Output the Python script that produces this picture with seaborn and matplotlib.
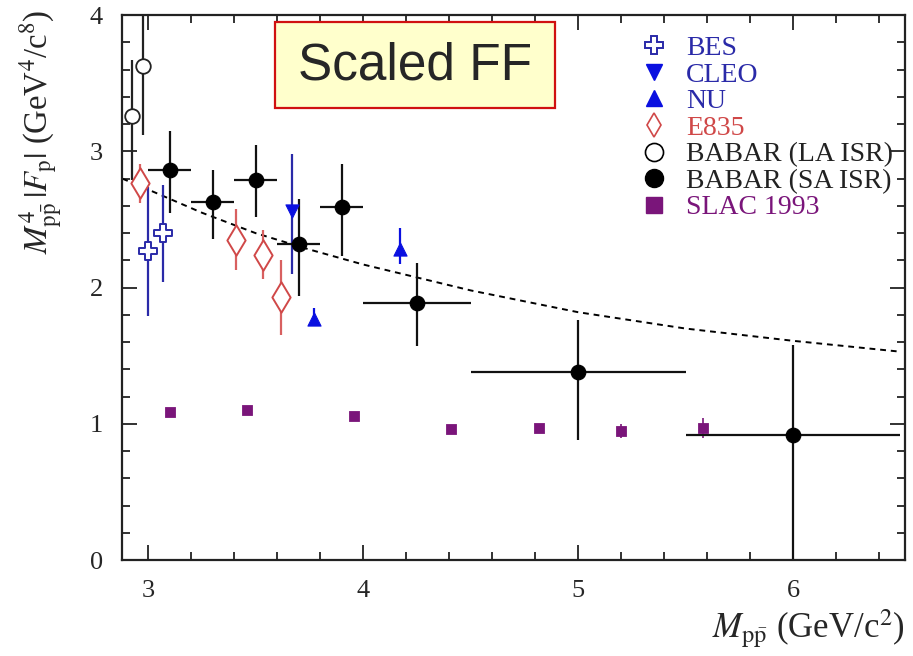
import numpy as np
import pandas as pd
import seaborn as sns
import matplotlib.pyplot as plt
from matplotlib.lines import Line2D
from matplotlib.patches import Rectangle
from matplotlib.ticker import MultipleLocator

# ---- data ----
bes_x = [3.00, 3.07]
bes_y = [2.27, 2.40]
bes_lo = [1.79, 2.04]
bes_hi = [2.74, 2.75]

cleo_x = [3.67]
cleo_y = [2.56]
cleo_lo = [2.10]
cleo_hi = [2.98]

nu_x = [3.77, 4.17]
nu_y = [1.77, 2.28]
nu_lo = [1.73, 2.17]
nu_hi = [1.85, 2.44]

e835_x = [2.963, 3.41, 3.535, 3.62]
e835_y = [2.77, 2.35, 2.24, 1.93]
e835_lo = [2.62, 2.13, 2.06, 1.65]
e835_hi = [2.91, 2.58, 2.42, 2.20]

la_x = [2.927, 2.975]
la_y = [3.26, 3.63]
la_lo = [2.79, 3.12]
la_hi = [3.67, 4.20]

sa_x = [3.10, 3.30, 3.50, 3.70, 3.90, 4.25, 5.00, 6.00]
sa_y = [2.86, 2.625, 2.79, 2.32, 2.59, 1.89, 1.38, 0.92]
sa_xerr = [0.10, 0.10, 0.10, 0.10, 0.10, 0.25, 0.50, 0.50]
sa_lo = [2.55, 2.36, 2.52, 1.94, 2.23, 1.57, 0.88, 0.00]
sa_hi = [3.15, 2.86, 3.05, 2.65, 2.91, 2.18, 1.76, 1.58]

slac_x = [3.10, 3.46, 3.96, 4.41, 4.82, 5.20, 5.58]
slac_y = [1.09, 1.10, 1.06, 0.96, 0.97, 0.95, 0.97]
slac_err = [0.02, 0.02, 0.02, 0.02, 0.03, 0.05, 0.07]

fit_x = [2.88, 3.0, 3.25, 3.5, 3.75, 4.0, 4.5, 5.0, 5.5, 6.0, 6.5]
fit_y = [2.80, 2.72, 2.55, 2.40, 2.28, 2.17, 1.98, 1.82, 1.70, 1.61, 1.53]

legend_labels = ['BES', 'CLEO', 'NU', 'E835', 'BABAR (LA ISR)', 'BABAR (SA ISR)', 'SLAC 1993']

sns.set_style('ticks')
plt.rcParams['font.family'] = ['Liberation Serif', 'DejaVu Serif']
plt.rcParams['mathtext.fontset'] = 'stix'
plt.rcParams['xtick.direction'] = 'in'
plt.rcParams['ytick.direction'] = 'in'

blue = '#2a2aa8'
blue2 = '#0a10e0'
red = '#d04848'
purple = '#7a157a'

f = plt.figure(figsize=(9.13, 6.56), dpi=100)
ax = f.add_axes([0.134, 0.146, 0.857, 0.831])

# dashed curve
sns.lineplot(x=fit_x, y=fit_y, ax=ax, color='black', lw=1.4, linestyle=(0, (3, 2.5)))


def bars(x, y, lo, hi, color, xerr=None, lw=1.6):
    y = np.array(y)
    yerr = [y - np.array(lo), np.array(hi) - y]
    ax.errorbar(x, y, yerr=yerr, xerr=xerr, fmt='none', ecolor=color,
                elinewidth=lw, capsize=0, zorder=2)


bars(slac_x, slac_y, np.array(slac_y) - slac_err, np.array(slac_y) + slac_err, purple, lw=1.2)
bars(bes_x, bes_y, bes_lo, bes_hi, blue)
bars(cleo_x, cleo_y, cleo_lo, cleo_hi, blue)
bars(nu_x, nu_y, nu_lo, nu_hi, blue2)
bars(e835_x, e835_y, e835_lo, e835_hi, '#d86060')
bars(la_x, la_y, la_lo, la_hi, '#222222')
bars(sa_x, sa_y, sa_lo, sa_hi, '#111111', xerr=sa_xerr)

sns.scatterplot(x=slac_x, y=slac_y, ax=ax, marker='s', s=55, color=purple, edgecolor=purple, zorder=3)
sns.scatterplot(x=bes_x, y=bes_y, ax=ax, marker='P', s=160, facecolor='white', edgecolor=blue, linewidth=1.4, zorder=3)
sns.scatterplot(x=cleo_x, y=cleo_y, ax=ax, marker='v', s=90, color=blue2, edgecolor=blue2, zorder=3)
sns.scatterplot(x=nu_x, y=nu_y, ax=ax, marker='^', s=90, color=blue2, edgecolor=blue2, zorder=3)
sns.scatterplot(x=e835_x, y=e835_y, ax=ax, marker='d', s=240, facecolor='white', edgecolor=red, linewidth=1.4, zorder=3)
sns.scatterplot(x=la_x, y=la_y, ax=ax, marker='o', s=110, facecolor='white', edgecolor='#222222', linewidth=1.3, zorder=3)
sns.scatterplot(x=sa_x, y=sa_y, ax=ax, marker='o', s=110, color='black', edgecolor='black', zorder=3)

handles = [
    Line2D([], [], ls='none', marker='P', ms=13, mfc='white', mec=blue, mew=1.4),
    Line2D([], [], ls='none', marker='v', ms=11, color=blue2),
    Line2D([], [], ls='none', marker='^', ms=11, color=blue2),
    Line2D([], [], ls='none', marker='d', ms=12, mfc='white', mec=red, mew=1.2),
    Line2D([], [], ls='none', marker='o', ms=13, mfc='white', mec='black', mew=1.2),
    Line2D([], [], ls='none', marker='o', ms=13, color='black'),
    Line2D([], [], ls='none', marker='s', ms=11, color=purple),
]
ax.legend(handles, legend_labels, loc='upper left', bbox_to_anchor=(0.63, 0.993),
          frameon=False, fontsize=20, labelspacing=0.04, handletextpad=0.35,
          handlelength=1.6, borderaxespad=0.2,
          labelcolor=[blue, blue, blue, red, '#222222', '#222222', purple])

ax.add_patch(Rectangle((0.195, 0.829), 0.358, 0.158, transform=ax.transAxes,
                       fc='#ffffcc', ec='#d01010', lw=1.6, zorder=4))
ax.text(0.374, 0.906, 'Scaled FF', transform=ax.transAxes, ha='center', va='center',
        fontsize=37, family=['Liberation Sans', 'DejaVu Sans'], zorder=5)

ax.set_xlim(2.88, 6.52)
ax.set_ylim(0, 4)
ax.xaxis.set_major_locator(MultipleLocator(1))
ax.xaxis.set_minor_locator(MultipleLocator(0.2))
ax.yaxis.set_major_locator(MultipleLocator(1))
ax.yaxis.set_minor_locator(MultipleLocator(0.2))
ax.tick_params(which='both', top=True, right=True, labelsize=19, width=1.3, color='#222222')
ax.tick_params(which='major', length=11, pad=14)
ax.tick_params(which='minor', length=6)
for sp in ax.spines.values():
    sp.set_linewidth(1.6)
    sp.set_color('#222222')

ax.set_xlabel(r'$M_{\mathrm{p\bar{p}}}$ (GeV/c$^2$)', fontsize=25, loc='right')
ax.set_ylabel(r'$M^4_{\mathrm{p\bar{p}}}\,|F_{\mathrm{p}}|$ (GeV$^4$/c$^8$)', fontsize=23.5, loc='top')
ax.xaxis.set_label_coords(1.0, -0.088)
ax.yaxis.set_label_coords(-0.075, 1.01)

f.savefig('out.png', dpi=100)
